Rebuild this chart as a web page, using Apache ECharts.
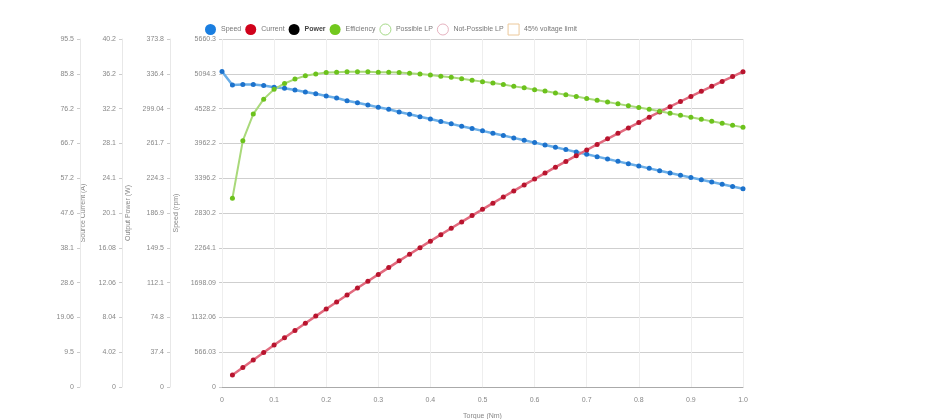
<!DOCTYPE html>
<html>
<head>
<meta charset="utf-8">
<script src="https://cdn.jsdelivr.net/npm/echarts@6/dist/echarts.min.js"></script>
<style>
html,body{margin:0;padding:0;background:#ffffff;}
#c{width:942px;height:419px;}
</style>
</head>
<body>
<div id="c"></div>
<script>
// ---- data ----
var torque = [0,0.02,0.04,0.06,0.08,0.10,0.12,0.14,0.16,0.18,0.20,0.22,0.24,0.26,0.28,0.30,0.32,0.34,0.36,0.38,0.40,0.42,0.44,0.46,0.48,0.50,0.52,0.54,0.56,0.58,0.60,0.62,0.64,0.66,0.68,0.70,0.72,0.74,0.76,0.78,0.80,0.82,0.84,0.86,0.88,0.90,0.92,0.94,0.96,0.98,1.00];
var speed = [5130,4912,4920,4920,4905,4874,4858,4830,4798,4770,4733,4700,4657,4624,4587,4549,4517,4473,4436,4397,4359,4318,4280,4242,4204,4166,4128,4090,4052,4014,3975,3937,3899,3861,3823,3785,3747,3709,3670,3632,3594,3556,3517,3481,3444,3408,3371,3335,3298,3262,3225];
var current = [null,1.39,2.26,3.13,3.99,4.84,5.69,6.53,7.36,8.19,9.01,9.82,10.63,11.43,12.22,13.01,13.79,14.57,15.33,16.10,16.85,17.60,18.34,19.07,19.80,20.52,21.24,21.95,22.65,23.34,24.03,24.71,25.39,26.06,26.72,27.38,28.02,28.67,29.30,29.93,30.55,31.17,31.78,32.38,32.98,33.57,34.15,34.73,35.30,35.86,36.42];
var efficiency = [null,51.8,67.6,74.9,79.0,81.7,83.3,84.5,85.4,85.9,86.3,86.4,86.5,86.5,86.5,86.4,86.4,86.3,86.1,85.9,85.6,85.3,85.0,84.6,84.2,83.8,83.4,83.0,82.5,82.1,81.6,81.2,80.7,80.2,79.7,79.2,78.7,78.2,77.7,77.2,76.7,76.2,75.7,75.1,74.6,74.0,73.5,72.9,72.4,71.8,71.3];
var power = [];

var speedTicks = ['0','566.03','1132.06','1698.09','2264.1','2830.2','3396.2','3962.2','4528.2','5094.3','5660.3'];
var powerTicks = ['0','37.4','74.8','112.1','149.5','186.9','224.3','261.7','299.04','336.4','373.8'];
var currentTicks = ['0','4.02','8.04','12.06','16.08','20.1','24.1','28.1','32.2','36.2','40.2'];
var effTicks = ['0','9.5','19.06','28.6','38.1','47.6','57.2','66.7','76.2','85.8','95.5'];

function pairs(ys){ return torque.map(function(t,i){ return [t, ys[i]]; }); }

function yAx(max, interval, ticks, offset, name, gap){
  return {
    type:'value', position:'left', min:0, max:max, interval:interval, offset:offset,
    name:name, nameLocation:'middle', nameGap:gap, nameRotate:90,
    nameTextStyle:{fontSize:7, color:'#888', fontFamily:'Liberation Sans'},
    axisLine:{show:true, lineStyle:{color:'#e8e8e8'}},
    axisTick:{show:true, length:3, lineStyle:{color:'#ccc'}},
    axisLabel:{fontSize:7, color:'#888', margin:6, fontFamily:'Liberation Sans',
      formatter:function(v){ return ticks[Math.round(v/interval)]; }},
    splitLine:{show:false}
  };
}

var chart = echarts.init(document.getElementById('c'), null, {renderer:'canvas'});
var speedAxis = yAx(5660.3, 566.03, speedTicks, 0, 'Speed (rpm)', 40);
speedAxis.splitLine = {show:true, lineStyle:{color:'#cfcfcf', width:1}};
speedAxis.axisLine = {show:false};

var option = {
  backgroundColor:'#ffffff',
  animation:false,
  textStyle:{fontFamily:'Liberation Sans'},
  legend:{
    left:205, top:23.5, padding:0, itemWidth:11, itemHeight:11, itemGap:4,
    textStyle:{fontSize:7, color:'#777'},
    data:[
      {name:'Speed', icon:'circle', itemStyle:{color:'#1a7ee0'}},
      {name:'Current', icon:'circle', itemStyle:{color:'#d0021b'}},
      {name:'Power', icon:'circle', itemStyle:{color:'#000000'}, textStyle:{fontWeight:'bold', color:'#444'}},
      {name:'Efficiency', icon:'circle', itemStyle:{color:'#72c81e'}},
      {name:'Possible LP', icon:'circle', itemStyle:{color:'#fff', borderColor:'#8fcf6a', borderWidth:1}},
      {name:'Not-Possible LP', icon:'circle', itemStyle:{color:'#fff', borderColor:'#e0a0b0', borderWidth:1}},
      {name:'45% voltage limit', icon:'rect', itemStyle:{color:'#fff', borderColor:'#ecc89a', borderWidth:1}}
    ]
  },
  grid:{left:222, right:199, top:39, bottom:32, containLabel:false, outerBoundsMode:'none'},
  xAxis:{
    type:'value', min:0, max:1, interval:0.1,
    name:'Torque (Nm)', nameLocation:'middle', nameGap:26,
    nameTextStyle:{fontSize:7, color:'#888'},
    axisLine:{lineStyle:{color:'#aaa'}},
    axisTick:{show:false},
    axisLabel:{fontSize:7, color:'#888', margin:10,
      formatter:function(v){ return v===0 ? '0' : v.toFixed(1); }},
    splitLine:{show:true, lineStyle:{color:'#eeeeee'}}
  },
  yAxis:[
    speedAxis,
    yAx(373.8, 37.38, powerTicks, 52, 'Output Power (W)', 37),
    yAx(40.2, 4.02, currentTicks, 100, 'Source Current (A)', 35),
    yAx(95.5, 9.55, effTicks, 142, '', 30)
  ],
  series:[
    {name:'Speed', type:'line', yAxisIndex:0, data:pairs(speed), symbol:'circle', symbolSize:5,
      lineStyle:{color:'#6aaee8', width:2.5}, itemStyle:{color:'#1c72cc'}},
    {name:'Current', type:'line', yAxisIndex:2, data:pairs(current), symbol:'circle', symbolSize:5,
      lineStyle:{color:'#e26a7e', width:2.5}, itemStyle:{color:'#b8142e'}},
    {name:'Power', type:'line', yAxisIndex:1, data:power, itemStyle:{color:'#000'}},
    {name:'Efficiency', type:'line', yAxisIndex:3, data:pairs(efficiency), symbol:'circle', symbolSize:5,
      lineStyle:{color:'#a9d97a', width:2}, itemStyle:{color:'#6cc21c'}},
    {name:'Possible LP', type:'scatter', yAxisIndex:0, data:[], itemStyle:{color:'#fff', borderColor:'#8fcf6a'}},
    {name:'Not-Possible LP', type:'scatter', yAxisIndex:0, data:[], itemStyle:{color:'#fff', borderColor:'#e0a0b0'}},
    {name:'45% voltage limit', type:'line', yAxisIndex:0, data:[], itemStyle:{color:'#fff', borderColor:'#ecc89a'}}
  ]
};
chart.setOption(option);
</script>
</body>
</html>
